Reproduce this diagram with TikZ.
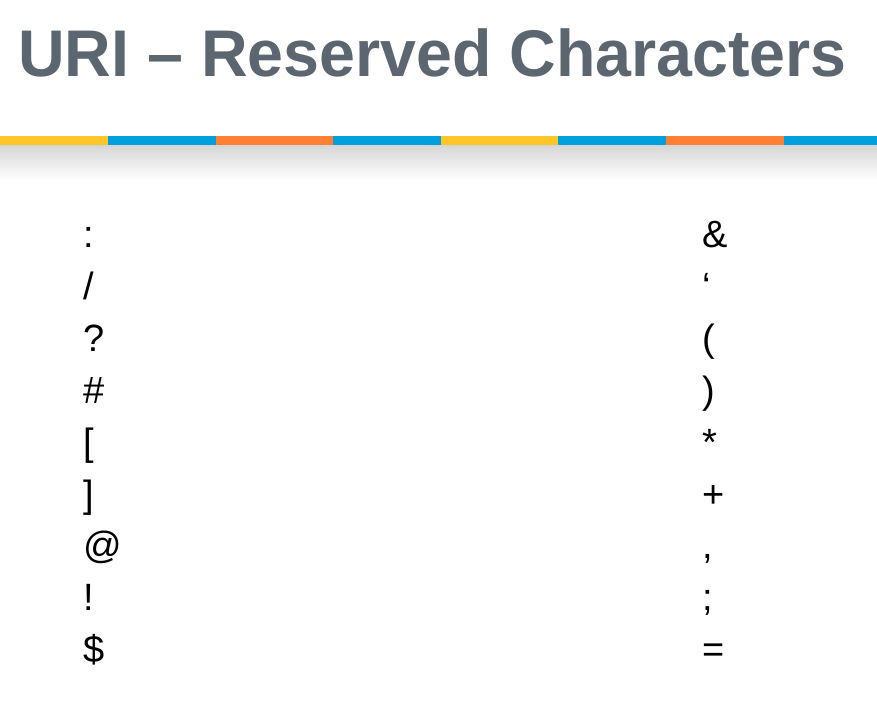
\documentclass[tikz,border=0pt]{standalone}
\usepackage{fontspec}
\setmainfont{Liberation Sans}
\usepackage{tikz}
\definecolor{bargold}{HTML}{FFC629}
\definecolor{barblue}{HTML}{00A0DF}
\definecolor{barorange}{HTML}{FF7F33}
\definecolor{titlegray}{HTML}{5C6670}

\begin{document}
\begin{tikzpicture}[x=1pt,y=-1pt]
						\tikzstyle{char}=[anchor=base west,inner sep=0pt,font=\fontsize{38}{38}\selectfont]
						\tikzstyle{seg}=[draw=none]
						\useasboundingbox (0,0) rectangle (877,717);
						\node[anchor=base west,inner sep=0pt,text=titlegray,xscale=0.978,transform shape,font=\fontsize{66}{66}\selectfont\bfseries](title) at (18,76) {URI – Reserved Characters};
						% coloured bar under the title
						\shade[top color=black!16,bottom color=white] (0,145) rectangle (877,180);
						\fill[seg,bargold] (0,136) rectangle (108,145);
						\fill[seg,barblue] (108,136) rectangle (216,145);
						\fill[seg,barorange] (216,136) rectangle (333,145);
						\fill[seg,barblue] (333,136) rectangle (441,145);
						\fill[seg,bargold] (441,136) rectangle (558,145);
						\fill[seg,barblue] (558,136) rectangle (666,145);
						\fill[seg,barorange] (666,136) rectangle (784,145);
						\fill[seg,barblue] (784,136) rectangle (877,145);
						% left column
						\node[char](l1) at (83,247) {:};
						\node[char](l2) at (83,299) {/};
						\node[char](l3) at (83,351) {?};
						\node[char](l4) at (83,403) {\#};
						\node[char](l5) at (83,455) {[};
						\node[char](l6) at (83,507) {]};
						\node[char](l7) at (83,558) {@};
						\node[char](l8) at (83,610) {!};
						\node[char](l9) at (83,662) {\$};
						% right column
						\node[char](r1) at (702,247) {\&};
						\node[char](r2) at (702,299) {‘};
						\node[char](r3) at (702,351) {(};
						\node[char](r4) at (702,403) {)};
						\node[char](r5) at (702,455) {*};
						\node[char](r6) at (702,507) {+};
						\node[char](r7) at (702,558) {,};
						\node[char](r8) at (702,610) {;};
						\node[char](r9) at (702,662) {=};
					\end{tikzpicture}
\end{document}
